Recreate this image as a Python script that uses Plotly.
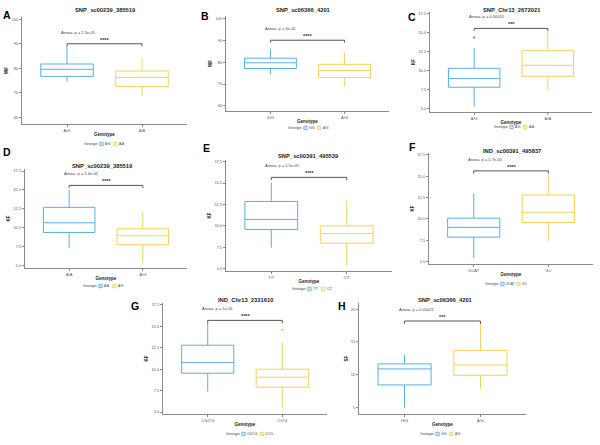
import plotly.graph_objects as go

# ---------------- data ----------------
letters = ["A", "B", "C", "D", "E", "F", "G", "H"]
titles = ["SNP_sc00239_385519", "SNP_sc06366_4201", "SNP_Chr13_2672021", "SNP_sc00239_385519",
          "SNP_sc00391_495539", "IND_sc00391_495837", "IND_Chr13_2331610", "SNP_sc06366_4201"]
ytitles = ["WF", "WF", "KF", "KF", "KF", "KF", "KF", "SF"]
group1 = ["A/G", "G/G", "A/G", "A/A", "T/T", "GCAT", "CG/CG", "G/G"]
group2 = ["A/A", "A/G", "A/A", "A/G", "C/T", "GC", "C/CG", "A/G"]

g1_low = [74.5, 74.5, 5.3, 7.37, 7.43, 5.4, 7.4, 4.9]
g1_q1 = [76.7, 77.1, 7.86, 9.38, 9.58, 7.85, 9.53, 8.42]
g1_med = [79.6, 79.7, 8.99, 10.66, 10.75, 9.0, 10.77, 10.87]
g1_q3 = [81.75, 81.8, 10.35, 12.7, 12.85, 10.08, 12.8, 11.64]
g1_high = [88.8, 86.1, 13.0, 15.0, 15.05, 13.0, 15.4, 13.06]
g1_out = [[], [], [14.4], [], [], [], [], []]

g2_low = [68.8, 68.9, 7.4, 5.26, 5.35, 7.4, 5.4, 7.8]
g2_q1 = [72.6, 73.0, 9.3, 7.76, 7.97, 9.57, 7.9, 9.9]
g2_med = [76.3, 76.2, 10.75, 8.95, 9.1, 10.78, 9.07, 11.48]
g2_q3 = [78.9, 79.0, 12.67, 9.87, 10.0, 12.8, 10.0, 13.72]
g2_high = [83.9, 84.3, 15.3, 12.1, 12.93, 15.2, 13.1, 17.9]
g2_out = [[], [], [], [], [], [], [14.6], []]

pvalues = ["2.3e-05", "3e-05", "0.00013", "1.4e-05", "1.5e-05", "1.7e-05", "1e-05", "0.00021"]
signif = ["****", "****", "***", "****", "****", "****", "****", "***"]
bracket_y = [90, 90, 15.6, 15.6, 15.67, 15.63, 15.7, 18.2]

yticks = [[60, 70, 80, 90, 100], [60, 70, 80, 90, 100],
          [5, 7.5, 10, 12.5, 15, 17.5], [5, 7.5, 10, 12.5, 15, 17.5],
          [5, 7.5, 10, 12.5, 15, 17.5], [5, 7.5, 10, 12.5, 15, 17.5],
          [5, 7.5, 10, 12.5, 15, 17.5], [5, 10, 15, 20]]

# ---------------- layout geometry (pixels) ----------------
W, H = 600, 445
px_x = [(22, 187), (226, 389), (430, 592), (25, 187), (226, 392), (429, 593), (163, 327), (359, 526)]
px_y = [(17, 124), (16, 111), (12, 112), (169, 268), (160, 271), (153, 264), (303, 414), (303, 414)]
yranges = [(57.3, 100.9), (57.7, 101.05), (4.6, 17.76), (4.68, 17.77), (4.72, 17.7),
           (4.7, 17.73), (4.77, 17.73), (3.97, 20.96)]
tickfmt = ["d", "d", ".1f", ".1f", ".1f", ".1f", ".1f", "d"]
title_pos = [(105, 10), (303, 10), (512, 9.5), (102, 166), (308, 156), (512, 150.5), (246, 299.5), (445, 299.5)]
letter_pos = [(7, 15), (205, 16), (412, 17), (7, 152), (207, 148), (412, 147), (135, 306), (342, 306)]
legend_pos = [(104, 144), (308, 128), (514, 127), (103, 286), (312, 289), (505, 284), (246, 434), (440, 434)]

BLUE = "#5AAEE3"
YELLOW = "#F3D257"
BLUE_FILL = "#cfe6f7"
YELLOW_FILL = "#fbf0c4"
AXIS = "#8a8a8a"
FONT = "Liberation Sans"


def px2x(p):
    return p / W


def px2y(p):
    return 1 - p / H


fig = go.Figure()
annotations = []
shapes = []
layout_axes = {}


def legend_block(cx, cy, lab1, lab2):
    fs = 3.2
    cw = 2.3  # approx px per char
    sq = 3.4
    annotations.append(dict(x=px2x(cx - 5), y=px2y(cy), xref="paper", yref="paper",
                            xanchor="right", yanchor="middle",
                            text="Genotype", showarrow=False, borderpad=0,
                            font=dict(size=fs, color="#444", family=FONT)))
    xpos = cx - 4.2
    for lab, col, fill in [(lab1, BLUE, BLUE_FILL), (lab2, YELLOW, YELLOW_FILL)]:
        shapes.append(dict(type="rect", xref="paper", yref="paper",
                           x0=px2x(xpos), x1=px2x(xpos + sq), y0=px2y(cy + sq / 2), y1=px2y(cy - sq / 2),
                           line=dict(color=col, width=0.8), fillcolor=fill))
        xpos += sq + 0.8
        annotations.append(dict(x=px2x(xpos), y=px2y(cy), xref="paper", yref="paper",
                                xanchor="left", yanchor="middle",
                                text=lab, showarrow=False, borderpad=0,
                                font=dict(size=fs, color="#444", family=FONT)))
        xpos += len(lab) * cw + 2.5


for i in range(8):
    sfx = "" if i == 0 else str(i + 1)
    xa, ya = "x" + sfx, "y" + sfx
    cats = [group1[i], group2[i]]

    fig.add_trace(go.Box(
        x=[group1[i]], q1=[g1_q1[i]], median=[g1_med[i]], q3=[g1_q3[i]],
        lowerfence=[g1_low[i]], upperfence=[g1_high[i]],
        name=group1[i], line=dict(color=BLUE, width=1), fillcolor="rgba(255,255,255,0)",
        whiskerwidth=0, width=0.7, boxpoints=False, xaxis=xa, yaxis=ya, showlegend=False))
    fig.add_trace(go.Box(
        x=[group2[i]], q1=[g2_q1[i]], median=[g2_med[i]], q3=[g2_q3[i]],
        lowerfence=[g2_low[i]], upperfence=[g2_high[i]],
        name=group2[i], line=dict(color=YELLOW, width=1), fillcolor="rgba(255,255,255,0)",
        whiskerwidth=0, width=0.7, boxpoints=False, xaxis=xa, yaxis=ya, showlegend=False))
    if g1_out[i]:
        fig.add_trace(go.Scatter(x=[group1[i]] * len(g1_out[i]), y=g1_out[i], mode="markers",
                                 marker=dict(color=BLUE, size=2.5), xaxis=xa, yaxis=ya, showlegend=False))
    if g2_out[i]:
        fig.add_trace(go.Scatter(x=[group2[i]] * len(g2_out[i]), y=g2_out[i], mode="markers",
                                 marker=dict(color=YELLOW, size=2.5), xaxis=xa, yaxis=ya, showlegend=False))

    # significance bracket
    yr = yranges[i]
    tip = 0.025 * (yr[1] - yr[0])
    b = bracket_y[i]
    fig.add_trace(go.Scatter(x=[group1[i], group1[i], group2[i], group2[i]],
                             y=[b - tip, b, b, b - tip], mode="lines",
                             line=dict(color="#555555", width=1), xaxis=xa, yaxis=ya,
                             showlegend=False, hoverinfo="skip"))
    annotations.append(dict(x=0.5, y=b, xref=xa, yref=ya, text="<b>" + signif[i] + "</b>", showarrow=False,
                            xanchor="center", yanchor="middle",
                            yshift=4, borderpad=0, font=dict(size=5.5, color="#333", family=FONT)))
    annotations.append(dict(x=-0.09, y=b, xref=xa, yref=ya, xanchor="left", yanchor="middle",
                            text="Anova, p = " + pvalues[i], showarrow=False, borderpad=0,
                            yshift=11.5, font=dict(size=4, color="#444", family=FONT)))

    # title and panel letter
    annotations.append(dict(x=px2x(title_pos[i][0]), y=px2y(title_pos[i][1]), xref="paper", yref="paper",
                            xanchor="center", yanchor="middle",
                            text="<b>" + titles[i] + "</b>", showarrow=False, borderpad=0,
                            font=dict(size=5.8, color="#222", family=FONT)))
    annotations.append(dict(x=px2x(letter_pos[i][0]), y=px2y(letter_pos[i][1]), xref="paper", yref="paper",
                            xanchor="center", yanchor="middle",
                            text="<b>" + letters[i] + "</b>", showarrow=False, borderpad=0,
                            font=dict(size=10.5, color="#000", family=FONT)))

    legend_block(legend_pos[i][0], legend_pos[i][1], group1[i], group2[i])

    layout_axes["xaxis" + sfx] = dict(
        domain=[px2x(px_x[i][0]), px2x(px_x[i][1])], anchor=ya,
        type="category", categoryorder="array", categoryarray=cats, range=[-0.6, 1.6],
        showline=True, linecolor=AXIS, linewidth=1, ticks="outside", ticklen=2, tickcolor=AXIS,
        showgrid=False, zeroline=False, tickfont=dict(size=4, color="#555", family=FONT),
        title=dict(text="<b>Genotype</b>", standoff=1, font=dict(size=4.5, color="#222", family=FONT)))
    layout_axes["yaxis" + sfx] = dict(
        domain=[px2y(px_y[i][1]), px2y(px_y[i][0])], anchor=xa,
        range=list(yr), tickvals=yticks[i], tickformat=tickfmt[i],
        showline=True, linecolor=AXIS, linewidth=1, ticks="outside", ticklen=2, tickcolor=AXIS,
        showgrid=False, zeroline=False, tickfont=dict(size=4, color="#555", family=FONT),
        title=dict(text="<b>" + ytitles[i] + "</b>", standoff=2, font=dict(size=4.5, color="#222", family=FONT)))

fig.update_layout(
    width=W, height=H, margin=dict(l=0, r=0, t=0, b=0),
    paper_bgcolor="white", plot_bgcolor="white", boxmode="overlay", showlegend=False,
    annotations=annotations, shapes=shapes, font=dict(family=FONT), **layout_axes)

fig.write_html("out.html")
